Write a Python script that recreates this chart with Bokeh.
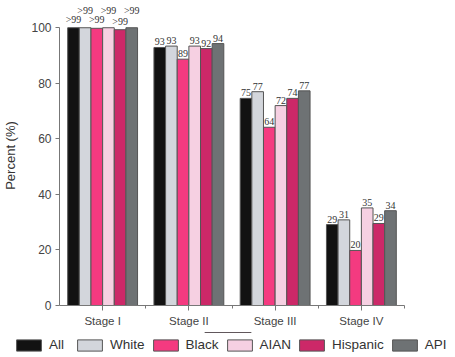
from bokeh.plotting import figure
from bokeh.models import ColumnDataSource, FixedTicker, Legend, LegendItem, Range1d
from bokeh.embed import file_html
from bokeh.resources import INLINE

stages = ["Stage I", "Stage II", "Stage III", "Stage IV"]
groups = ["All", "White", "Black", "AIAN", "Hispanic", "API"]
colors = ["#121212", "#d3d6dc", "#f43a80", "#f6d0e2", "#cc2868", "#6e7274"]

all_vals = [99.9, 92.8, 74.5, 29.1]
white_vals = [99.9, 93.3, 76.9, 30.8]
black_vals = [99.7, 88.6, 64.1, 19.8]
aian_vals = [99.9, 93.3, 71.9, 35.1]
hispanic_vals = [99.2, 92.4, 74.5, 29.5]
api_vals = [99.9, 94.2, 77.2, 34.1]

all_labels = [">99", "93", "75", "29"]
white_labels = [">99", "93", "77", "31"]
black_labels = [">99", "89", "64", "20"]
aian_labels = [">99", "93", "72", "35"]
hispanic_labels = [">99", "92", "74", "29"]
api_labels = [">99", "94", "77", "34"]

series = [all_vals, white_vals, black_vals, aian_vals, hispanic_vals, api_vals]
series_labels = [all_labels, white_labels, black_labels, aian_labels,
                 hispanic_labels, api_labels]

FONT = "Liberation Sans"
group_w = 0.81
bar_w = group_w / len(groups)
EDGE = "#555555"

p = figure(width=455, height=332, output_backend="svg", toolbar_location=None,
           x_range=Range1d(0, len(stages)), y_range=Range1d(0, 107.9),
           min_border_left=58, min_border_right=51, min_border_top=5,
           min_border_bottom=27)
p.background_fill_color = "white"
p.border_fill_color = "white"
p.outline_line_color = None
p.xgrid.visible = False
p.ygrid.visible = False

lx, ly, lt, loff = [], [], [], []
for j, (name, vals, labs, col) in enumerate(zip(groups, series, series_labels, colors)):
    xs = [i + 0.5 + (j - (len(groups) - 1) / 2) * bar_w for i in range(len(stages))]
    src = ColumnDataSource(dict(x=xs, top=vals))
    p.vbar(x="x", top="top", width=bar_w, bottom=0, source=src,
           fill_color=col, line_color=EDGE, line_width=1)
    for x, v, t in zip(xs, vals, labs):
        lx.append(x)
        ly.append(v)
        lt.append(t)
        if t.startswith(">"):
            loff.append(-3 if j % 2 == 0 else -12)
        else:
            loff.append(-2)

lsrc = ColumnDataSource(dict(x=lx, y=ly, text=lt, yo=loff))
p.text(x="x", y="y", text="text", y_offset="yo", source=lsrc,
       text_align="center", text_baseline="bottom",
       text_font_size="10px", text_color="#333333", text_font=FONT)

# axes
yax = p.yaxis[0]
yax.ticker = FixedTicker(ticks=[0, 20, 40, 60, 80, 100])
yax.bounds = (0, 100)
yax.axis_label = "Percent (%)"
yax.axis_label_text_font = FONT
yax.axis_label_text_font_style = "normal"
yax.axis_label_text_font_size = "13px"
yax.axis_label_text_color = "#333333"
yax.axis_label_standoff = 10
yax.major_label_text_font = FONT
yax.major_label_text_font_size = "12px"
yax.major_label_text_color = "#444444"
yax.major_label_standoff = 4
yax.major_tick_out = 4
yax.major_tick_in = 0
yax.minor_tick_out = 0
yax.minor_tick_in = 0
yax.axis_line_color = "#777777"
yax.major_tick_line_color = "#777777"

xax = p.xaxis[0]
centers = [i + 0.5 for i in range(len(stages))]
xax.ticker = FixedTicker(ticks=centers, minor_ticks=[float(i) for i in range(1, len(stages) + 1)])
xax.major_label_overrides = {c: s for c, s in zip(centers, stages)}
xax.bounds = (0, len(stages))
xax.major_label_text_font = FONT
xax.major_label_text_font_size = "11.5px"
xax.major_label_text_color = "#444444"
xax.major_label_standoff = 4
xax.major_tick_out = 5
xax.major_tick_in = 0
xax.minor_tick_out = 3
xax.minor_tick_in = 0
xax.axis_line_color = "#777777"
xax.major_tick_line_color = "#777777"
xax.minor_tick_line_color = "#777777"

# legend strip (separate root, so its frame is not aligned to the chart's)
lg = figure(width=455, height=25, output_backend="svg", toolbar_location=None,
            x_range=Range1d(0, 1), y_range=Range1d(0, 1),
            x_axis_location=None, y_axis_location=None,
            min_border_left=0, min_border_right=0, min_border_top=0,
            min_border_bottom=0)
lg.grid.visible = False
lg.outline_line_color = None
lg.background_fill_color = "white"
lg.border_fill_color = "white"
items = []
for name, col in zip(groups, colors):
    # swatch-only renderer, placed above the strip's visible range
    r = lg.vbar(x=[0.5], top=[6], bottom=[5], width=0.1, fill_color=col,
                line_color=EDGE, line_width=1)
    items.append(LegendItem(label=name, renderers=[r]))
legend = Legend(items=items, orientation="horizontal", location=(13, 5),
                glyph_width=31, glyph_height=14, label_standoff=5, spacing=5,
                label_text_font=FONT, label_text_font_size="13.5px",
                label_text_color="#333333", padding=0, margin=0,
                border_line_color=None, background_fill_alpha=0)
lg.add_layout(legend, "center")

open("out.html", "w").write(file_html([p, lg], INLINE))
